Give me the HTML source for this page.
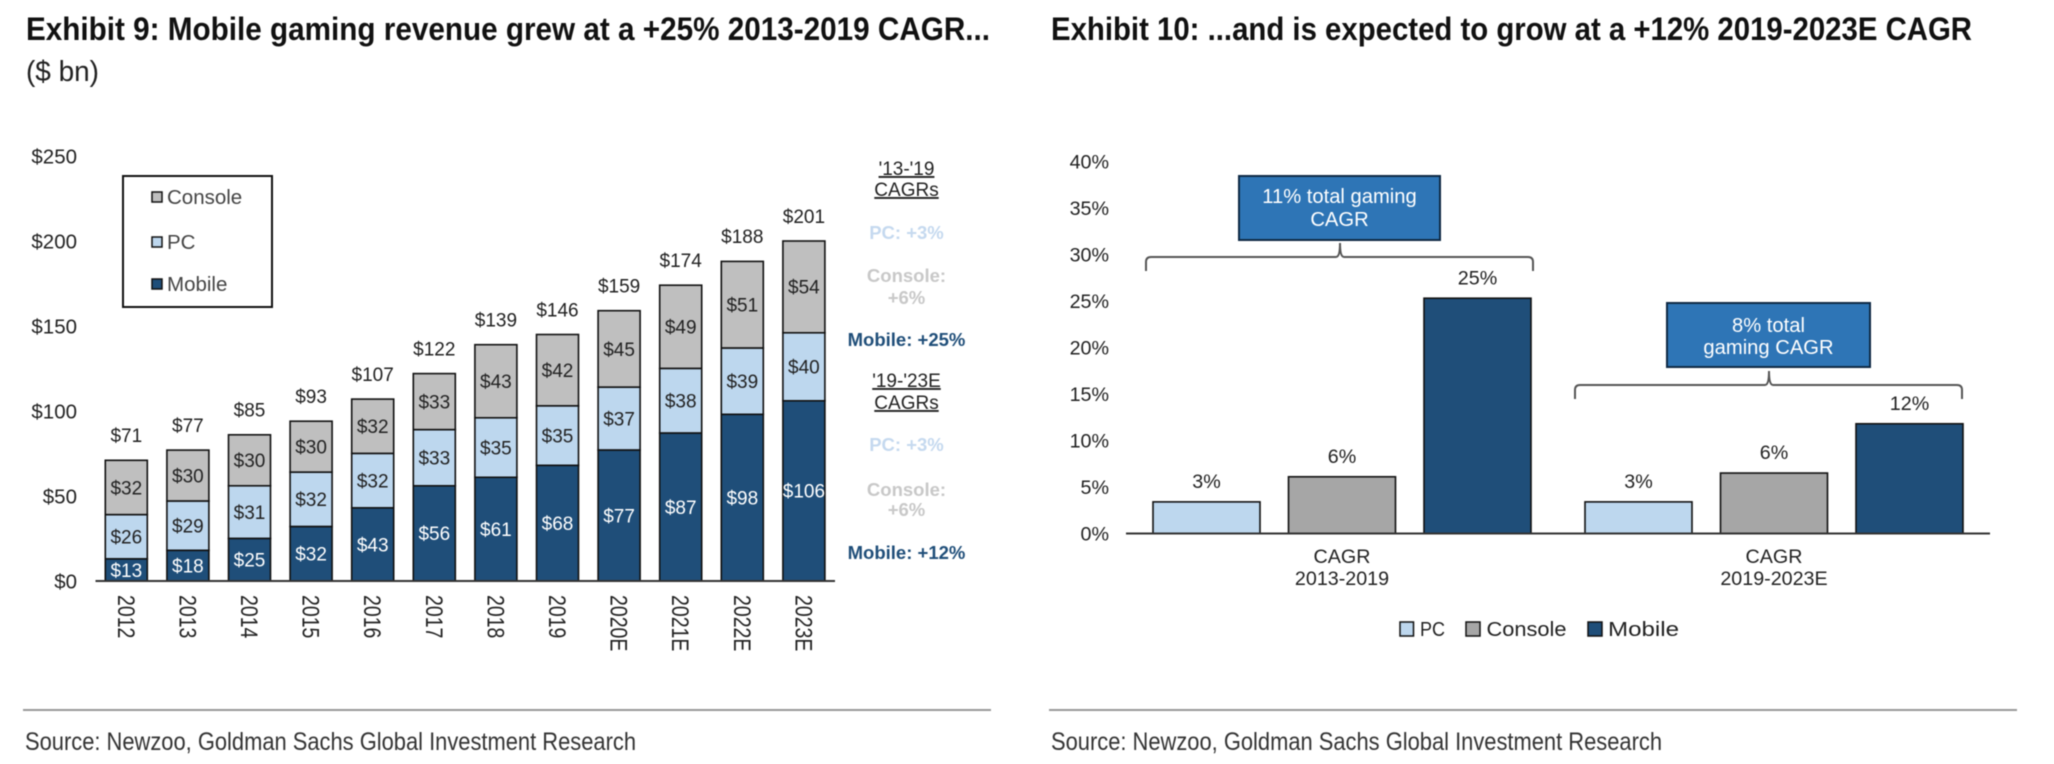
<!DOCTYPE html>
<html lang="en">
<head>
<meta charset="utf-8">
<title>Mobile gaming revenue exhibits</title>
<style>
html,body{margin:0;padding:0;background:#fff;width:2054px;height:764px;overflow:hidden}
svg{display:block;font-family:"Liberation Sans",Arial,sans-serif;filter:blur(0.4px)}
</style>
</head>
<body>
<svg id="page" xmlns="http://www.w3.org/2000/svg" width="2054" height="764" viewBox="0 0 2054 764">
  <rect x="0" y="0" width="2054" height="764" fill="#fff"/>
  <text x="26" y="40" font-size="32" font-weight="700" fill="#111" textLength="964" lengthAdjust="spacingAndGlyphs">Exhibit 9: Mobile gaming revenue grew at a +25% 2013-2019 CAGR...</text>
  <text x="26" y="81" font-size="29" fill="#222" textLength="73" lengthAdjust="spacingAndGlyphs">($ bn)</text>
  <text x="1051" y="40" font-size="32" font-weight="700" fill="#111" textLength="921" lengthAdjust="spacingAndGlyphs">Exhibit 10: ...and is expected to grow at a +12% 2019-2023E CAGR</text>

  <g id="chartA"></g>
  <g>
    <rect x="123" y="176" width="149" height="131" fill="#fff" stroke="#111" stroke-width="2"/>
    <rect x="152" y="192" width="10" height="10" fill="#bfbfbf" stroke="#111" stroke-width="1.5"/>
    <text x="167" y="204" font-size="20.5" fill="#444">Console</text>
    <rect x="152" y="237" width="10" height="10" fill="#bdd7ee" stroke="#111" stroke-width="1.5"/>
    <text x="167" y="249" font-size="20.5" fill="#444">PC</text>
    <rect x="152" y="279" width="10" height="10" fill="#1f4e79" stroke="#111" stroke-width="1.5"/>
    <text x="167" y="291" font-size="20.5" fill="#444">Mobile</text>
  </g>
  <g text-anchor="middle" font-size="19">
    <text x="906.5" y="175" fill="#222" style="text-decoration:underline">'13-'19</text>
    <text x="906.5" y="196" fill="#222" style="text-decoration:underline">CAGRs</text>
    <text x="906.5" y="239" fill="#c5d9ef" font-weight="700" font-size="18.5">PC: +3%</text>
    <text x="906.5" y="282" fill="#c8c8c8" font-weight="700" font-size="18.5">Console:</text>
    <text x="906.5" y="304" fill="#c8c8c8" font-weight="700" font-size="18.5">+6%</text>
    <text x="906.5" y="346" fill="#1f4e79" font-weight="700" font-size="18.5">Mobile: +25%</text>
    <text x="906.5" y="387" fill="#222" style="text-decoration:underline">'19-'23E</text>
    <text x="906.5" y="409" fill="#222" style="text-decoration:underline">CAGRs</text>
    <text x="906.5" y="451" fill="#c5d9ef" font-weight="700" font-size="18.5">PC: +3%</text>
    <text x="906.5" y="496" fill="#c8c8c8" font-weight="700" font-size="18.5">Console:</text>
    <text x="906.5" y="516" fill="#c8c8c8" font-weight="700" font-size="18.5">+6%</text>
    <text x="906.5" y="559" fill="#1f4e79" font-weight="700" font-size="18.5">Mobile: +12%</text>
  </g>

  <g id="chartB"></g>
  <g>
    <path d="M1146 271 V262 Q1146 257 1151 257 H1336 Q1340 257 1340 243 Q1340 257 1344 257 H1528 Q1533 257 1533 262 V271" fill="none" stroke="#555" stroke-width="2"/>
    <rect x="1239" y="176" width="201" height="64" fill="#2e75b6" stroke="#0f2a45" stroke-width="2"/>
    <text x="1339.5" y="203" text-anchor="middle" font-size="20.2" fill="#fff">11% total gaming</text>
    <text x="1339.5" y="226" text-anchor="middle" font-size="20.2" fill="#fff">CAGR</text>
  </g>
  <g>
    <path d="M1575 399 V390 Q1575 385 1580 385 H1765 Q1769 385 1769 371 Q1769 385 1773 385 H1957 Q1962 385 1962 390 V399" fill="none" stroke="#555" stroke-width="2"/>
    <rect x="1667" y="303" width="203" height="64" fill="#2e75b6" stroke="#0f2a45" stroke-width="2"/>
    <text x="1768.5" y="332" text-anchor="middle" font-size="20.2" fill="#fff">8% total</text>
    <text x="1768.5" y="354" text-anchor="middle" font-size="20.2" fill="#fff">gaming CAGR</text>
  </g>
  <g font-size="20" fill="#222">
    <rect x="1400" y="622" width="13.5" height="14" fill="#bdd7ee" stroke="#111" stroke-width="1.5"/>
    <text x="1420" y="636" textLength="25" lengthAdjust="spacingAndGlyphs">PC</text>
    <rect x="1466" y="622" width="14" height="14" fill="#a6a6a6" stroke="#111" stroke-width="1.5"/>
    <text x="1486.5" y="636" textLength="80" lengthAdjust="spacingAndGlyphs">Console</text>
    <rect x="1588" y="622" width="14" height="14" fill="#1f4e79" stroke="#111" stroke-width="1.5"/>
    <text x="1608" y="636" textLength="71" lengthAdjust="spacingAndGlyphs">Mobile</text>
  </g>

  <line x1="23" y1="710" x2="991" y2="710" stroke="#999" stroke-width="2"/>
  <text x="25" y="750" font-size="25" fill="#333" textLength="611" lengthAdjust="spacingAndGlyphs">Source: Newzoo, Goldman Sachs Global Investment Research</text>
  <line x1="1049" y1="710" x2="2017" y2="710" stroke="#999" stroke-width="2"/>
  <text x="1051" y="750" font-size="25" fill="#333" textLength="611" lengthAdjust="spacingAndGlyphs">Source: Newzoo, Goldman Sachs Global Investment Research</text>
</svg>
<script>
// Exhibit 9 data
const years = ['2012','2013','2014','2015','2016','2017','2018','2019','2020E','2021E','2022E','2023E'];
const mobileRevenue = [13,18,25,32,43,56,61,68,77,87,98,106];
const pcRevenue = [26,29,31,32,32,33,35,35,37,38,39,40];
const consoleRevenue = [32,30,30,30,32,33,43,42,45,49,51,54];
const totalLabels = ['$71','$77','$85','$93','$107','$122','$139','$146','$159','$174','$188','$201'];
const revenueTicks = [0,50,100,150,200,250];

// Exhibit 10 data
const cagrPeriods = [['CAGR','2013-2019'],['CAGR','2019-2023E']];
const cagrPc = [3.4,3.4];
const cagrConsole = [6.1,6.5];
const cagrMobile = [25.3,11.8];
const cagrPcLabels = ['3%','3%'];
const cagrConsoleLabels = ['6%','6%'];
const cagrMobileLabels = ['25%','12%'];
const cagrTicks = [0,5,10,15,20,25,30,35,40];

const NS = 'http://www.w3.org/2000/svg';
const chartA = document.getElementById('chartA');
const chartB = document.getElementById('chartB');

function make(tag, parent) {
  const el = document.createElementNS(NS, tag);
  parent.appendChild(el);
  return el;
}
function place(el, x, cy, size, anchor, fill, str) {
  el.setAttribute('x', x);
  el.setAttribute('y', cy + size * 0.36);
  el.setAttribute('font-size', size);
  el.setAttribute('text-anchor', anchor);
  el.setAttribute('fill', fill);
  el.textContent = str;
}
function box(el, x, y, w, h, fill) {
  el.setAttribute('x', x);
  el.setAttribute('y', y);
  el.setAttribute('width', w);
  el.setAttribute('height', Math.max(h, 0));
  el.setAttribute('fill', fill);
  el.setAttribute('stroke', '#111');
  el.setAttribute('stroke-width', '1.6');
}

// Axis functions, exhibit 9
const yRevenue = v => 581 - v * 1.7;
const xYear = i => 95.5 + 61.6 * (i + 0.5);
const barWidthA = 42;

revenueTicks.forEach(t => {
  const el = make('text', chartA);
  
  
  place(el, 77, yRevenue(t), 20.5, 'end', '#222', '$' + t);
});

years.forEach((year, i) => {
  const m = mobileRevenue[i], p = pcRevenue[i], c = consoleRevenue[i];
  const x = xYear(i) - barWidthA / 2;

  const barC = make('rect', chartA);
  
  
  box(barC, x, yRevenue(m + p + c), barWidthA, c * 1.7, '#bfbfbf');

  const barP = make('rect', chartA);
  
  
  box(barP, x, yRevenue(m + p), barWidthA, p * 1.7, '#bdd7ee');

  const barM = make('rect', chartA);
  
  
  box(barM, x, yRevenue(m), barWidthA, m * 1.7, '#1f4e79');

  const labC = make('text', chartA);
  
  
  place(labC, xYear(i), yRevenue(m + p + c / 2), 19, 'middle', '#222', '$' + c);

  const labP = make('text', chartA);
  
  
  place(labP, xYear(i), yRevenue(m + p / 2), 19, 'middle', '#222', '$' + p);

  const labM = make('text', chartA);
  
  
  place(labM, xYear(i), yRevenue(m / 2), 19, 'middle', '#fff', '$' + m);

  const labT = make('text', chartA);
  
  
  place(labT, xYear(i), yRevenue(m + p + c) - 25, 19, 'middle', '#222', totalLabels[i]);

  const tick = make('text', chartA);
  
  
  tick.setAttribute('transform', 'translate(' + (xYear(i) - 8.5) + ',595) rotate(90) scale(0.8,1)');
  tick.setAttribute('font-size', '24.4');
  tick.setAttribute('fill', '#222');
  tick.textContent = year;
});

const axisA = make('line', chartA);


axisA.setAttribute('x1', 95.5);
axisA.setAttribute('x2', 835);
axisA.setAttribute('y1', yRevenue(0));
axisA.setAttribute('y2', yRevenue(0));
axisA.setAttribute('stroke', '#333');
axisA.setAttribute('stroke-width', '2');

// Axis functions, exhibit 10
const yCagr = v => 533.5 - v * 9.3;
const xPeriod = g => 1126 + 432 * (g + 0.5);
const barGap = 135.5;
const barWidthB = 107;

cagrTicks.forEach(t => {
  const el = make('text', chartB);
  
  
  place(el, 1109, yCagr(t), 19.7, 'end', '#222', t + '%');
});

cagrPeriods.forEach((period, g) => {
  const cx = xPeriod(g);

  const barP = make('rect', chartB);
  
  
  box(barP, cx - barGap - barWidthB / 2, yCagr(cagrPc[g]), barWidthB, cagrPc[g] * 9.3, '#bdd7ee');

  const barC = make('rect', chartB);
  
  
  box(barC, cx - barWidthB / 2, yCagr(cagrConsole[g]), barWidthB, cagrConsole[g] * 9.3, '#a6a6a6');

  const barM = make('rect', chartB);
  
  
  box(barM, cx + barGap - barWidthB / 2, yCagr(cagrMobile[g]), barWidthB, cagrMobile[g] * 9.3, '#1f4e79');

  const labP = make('text', chartB);
  
  
  place(labP, cx - barGap, yCagr(cagrPc[g]) - 21, 19.7, 'middle', '#222', cagrPcLabels[g]);

  const labC = make('text', chartB);
  
  
  place(labC, cx, yCagr(cagrConsole[g]) - 21, 19.7, 'middle', '#222', cagrConsoleLabels[g]);

  const labM = make('text', chartB);
  
  
  place(labM, cx + barGap, yCagr(cagrMobile[g]) - 21, 19.7, 'middle', '#222', cagrMobileLabels[g]);

  const cat1 = make('text', chartB);
  
  
  place(cat1, cx, 556, 19.7, 'middle', '#222', period[0]);

  const cat2 = make('text', chartB);
  
  
  place(cat2, cx, 578, 19.7, 'middle', '#222', period[1]);
});

const axisB = make('line', chartB);


axisB.setAttribute('x1', 1126);
axisB.setAttribute('x2', 1990);
axisB.setAttribute('y1', yCagr(0));
axisB.setAttribute('y2', yCagr(0));
axisB.setAttribute('stroke', '#333');
axisB.setAttribute('stroke-width', '2');
</script>
</body>
</html>
